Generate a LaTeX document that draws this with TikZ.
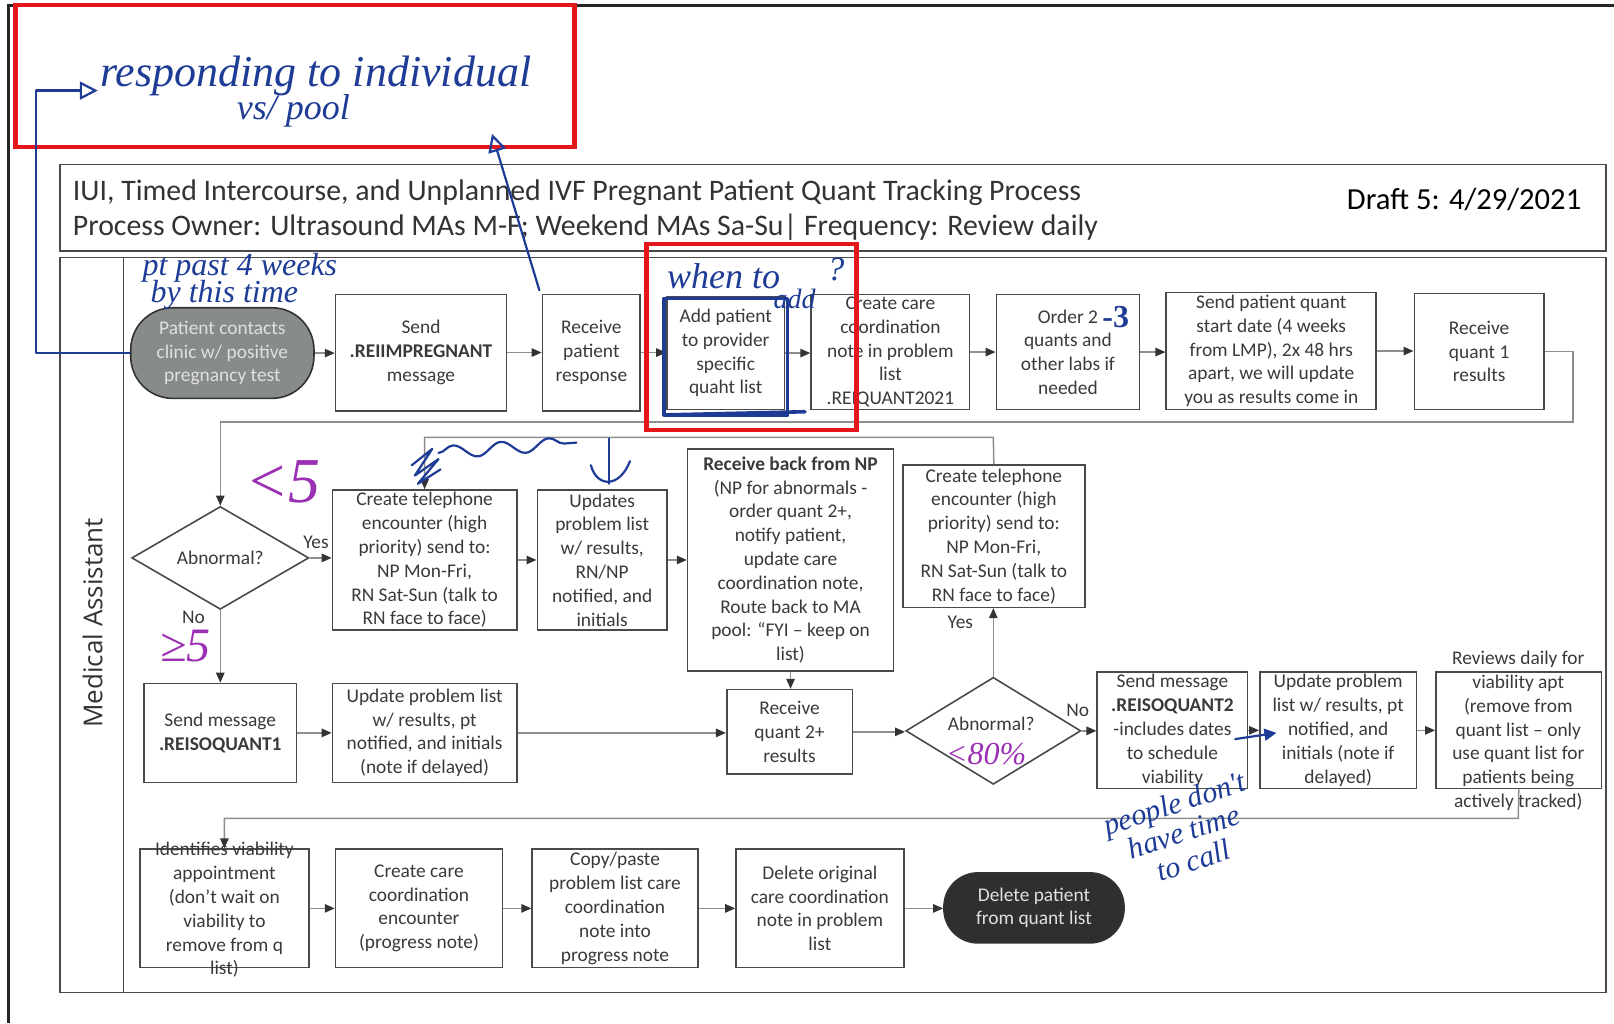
\documentclass[tikz,border=0pt]{standalone}
\usepackage{fontspec}
\setmainfont{Carlito}
\newfontfamily\lanefont{Open Sans}
\newfontfamily\handfont{Liberation Serif}
\usetikzlibrary{shapes.geometric,arrows.meta,calc,decorations.pathmorphing}

\definecolor{ink}{HTML}{3A3A3A}
\definecolor{edge}{HTML}{4A4A4A}
\definecolor{wire}{HTML}{8E8E8E}
\definecolor{pen}{HTML}{1E3C96}
\definecolor{penpurple}{HTML}{9B30B4}
\definecolor{redmark}{HTML}{E3161C}
\definecolor{startgray}{HTML}{878C89}
\definecolor{endgray}{HTML}{2F2F2F}

% box given by its corners: [options]{name}{x1}{y1}{x2}{y2}{text}
\newcommand{\flowbox}[7][]{%
  \node[stepbox, minimum width={(#5-#3)*0.51465pt}, minimum height={(#6-#4)*0.51465pt}, #1]
    (#2) at ({(#3+#5)/2},{(#4+#6)/2}) {#7};}

\tikzset{
  every node/.style={font=\fontsize{9.7}{11.9}\selectfont, text=ink},
  stepbox/.style={draw=edge, line width=0.8pt, fill=white, align=center, inner sep=1pt},
  startbox/.style={stepbox, fill=startgray, draw=black!80, rounded corners=21pt, text=black!12},
  endbox/.style={stepbox, fill=endgray, draw=black!80, rounded corners=17pt, text=white!88!black},
  decision/.style={diamond, draw=edge, line width=0.8pt, fill=white, inner sep=0pt, align=center},
  flow/.style={draw=wire, line width=0.75pt, -{Triangle[length=5pt,width=4.2pt,color=black!80]}},
  lbl/.style={inner sep=1pt},
  penline/.style={draw=pen, line width=1.1pt, line cap=round, line join=round},
  hand/.style={text=pen, inner sep=0pt, font=\handfont\itshape\fontsize{16}{16}\selectfont},
  handp/.style={text=penpurple, inner sep=0pt, font=\handfont\itshape\fontsize{16}{16}\selectfont},
  redbox/.style={draw=redmark, line width=2.2pt},
}

\begin{document}
\begin{tikzpicture}[x=0.51465pt,y=-0.51465pt]
\useasboundingbox[fill=white] (0,0) rectangle (1568,994);

% page frame
\draw[line width=1.6pt, black!85] (8,994) -- (8,5) -- (1568,5);

% title block
\draw[draw=edge, line width=0.8pt] (58,160) rectangle (1560,244);
\node[anchor=west, align=left, text=black!80, font=\fontsize{14.9}{17.6}\selectfont] (title) at (64,204)
  {IUI, Timed Intercourse, and Unplanned IVF Pregnant Patient Quant Tracking Process\\
   Process Owner: Ultrasound MAs M-F; Weekend MAs Sa-Su| Frequency: Review daily};
\node[anchor=east, text=black, font=\fontsize{15.3}{18}\selectfont] (draft) at (1543,194) {Draft 5: 4/29/2021};

% swimlane
\draw[draw=edge, line width=0.8pt] (58,250) rectangle (1560,964);
\draw[draw=edge, line width=0.8pt] (120,250) -- (120,964);
\node[rotate=90, text=black!80, font=\lanefont\fontsize{13}{15}\selectfont] (lane) at (90,605) {Medical Assistant};

% ---- row 1
\flowbox[startbox]{start}{127}{299}{305}{387}{Patient contacts\\clinic w/ positive\\pregnancy test}
\flowbox{send1}{326}{286}{492}{399}{Send\\\textbf{.REIIMPREGNANT}\\message}
\flowbox{recv}{527}{286}{622}{399}{Receive\\patient\\response}
\flowbox{addpt}{648}{288}{762}{398}{Add patient\\to provider\\specific\\quaht list}
\flowbox{ccnote}{788}{286}{942}{398}{Create care\\coordination\\note in problem\\list\\.REIQUANT2021}
\flowbox{order}{968}{286}{1107}{398}{Order 2\\quants and\\other labs if\\needed}
\flowbox{sendq}{1133}{284}{1337}{398}{Send patient quant\\start date (4 weeks\\from LMP), 2x 48 hrs\\apart, we will update\\you as results come in}
\flowbox{rq1}{1374}{285}{1500}{398}{Receive\\quant 1\\results}

% ---- row 2
\node[decision, minimum width={172*0.51465pt}, minimum height={100*0.51465pt}] (ab1) at (214,542) {Abnormal?};
\flowbox{tel1}{323}{476}{502}{612}{Create telephone\\encounter (high\\priority) send to:\\NP Mon-Fri,\\RN Sat-Sun (talk to\\RN face to face)}
\flowbox{upd1}{522}{476}{648}{612}{Updates\\problem list\\w/ results,\\RN/NP\\notified, and\\initials}
\flowbox{np}{668}{436}{868}{652}{\textbf{Receive back from NP}\\(NP for abnormals -\\order quant 2+,\\notify patient,\\update care\\coordination note,\\Route back to MA\\pool: “FYI – keep on\\list)}
\flowbox{tel2}{877}{452}{1054}{590}{Create telephone\\encounter (high\\priority) send to:\\NP Mon-Fri,\\RN Sat-Sun (talk to\\RN face to face)}

% ---- row 3
\flowbox{sm1}{140}{664}{288}{760}{Send message\\\textbf{.REISOQUANT1}}
\flowbox{upl1}{323}{664}{502}{760}{Update problem list\\w/ results, pt\\notified, and initials\\(note if delayed)}
\flowbox{rq2}{706}{670}{828}{752}{Receive\\quant 2+\\results}
\node[decision, minimum width={170*0.51465pt}, minimum height={104*0.51465pt}] (ab2) at (965,710) {};
\node[lbl] (ab2txt) at (963,703) {Abnormal?};
\flowbox{sm2}{1066}{653}{1212}{766}{Send message\\\textbf{.REISOQUANT2}\\-includes dates\\to schedule\\viability}
\flowbox{upl2}{1224}{653}{1376}{766}{Update problem\\list w/ results, pt\\notified, and\\initials (note if\\delayed)}
\flowbox{rev}{1395}{653}{1556}{766}{}
\node[lbl, align=center] (revtxt) at (1475,710) {Reviews daily for\\viability apt\\(remove from\\quant list – only\\use quant list for\\patients being\\actively tracked)};

% ---- row 4
\flowbox{ident}{136}{825}{300}{940}{}
\node[lbl, align=center] (identtxt) at (218,884) {Identifies viability\\appointment\\(don’t wait on\\viability to\\remove from q\\list)};
\flowbox{ccenc}{326}{825}{488}{940}{Create care\\coordination\\encounter\\(progress note)}
\flowbox{copy}{517}{825}{678}{940}{Copy/paste\\problem list care\\coordination\\note into\\progress note}
\flowbox{delorig}{715}{825}{878}{940}{Delete original\\care coordination\\note in problem\\list}
\flowbox[endbox]{delpt}{917}{848}{1092}{916}{Delete patient\\from quant list}

% ---- connectors
\foreach \a/\b in {start/send1, send1/recv, recv/addpt, addpt/ccnote, ccnote/order, order/sendq, sendq/rq1,
                   ab1/tel1, tel1/upd1, upd1/np, sm1/upl1, upl1/rq2, rq2/ab2, ab2/sm2, sm2/upl2, upl2/rev,
                   ident/ccenc, ccenc/copy, copy/delorig, delorig/delpt}
  \draw[flow] (\a.east) -- (\a.east -| \b.west);

\coordinate (loopA) at (1528,410);
\draw[flow] (rq1.east) -| (loopA) -| (ab1.north);
\draw[flow] (ab1.south) -- (ab1.south |- sm1.north);
\draw[flow] (np.south) -- (np.south |- rq2.north);
\draw[flow] (ab2.north) -- (ab2.north |- tel2.south);
\coordinate (loopB) at (965,425);
\draw[flow] (tel2.north) -- (loopB) -| (tel1.north);
\coordinate (loopC) at (1475,795);
\draw[flow] (rev.south) -- (loopC) -| (ident.north);

\node[lbl] (yes1) at (307,527) {Yes};
\node[lbl] (no1) at (188,600) {No};
\node[lbl] (yes2) at (933,605) {Yes};
\node[lbl] (no2) at (1047,690) {No};

% ---- pen notes
\draw[redbox] (15,5) rectangle (558,143);
\draw[redbox] (628,237) rectangle (832,418);

\node[hand, anchor=west, font=\handfont\itshape\fontsize{22}{22}\selectfont] (respond) at (97,74) {responding to individual};
\node[hand, font=\handfont\itshape\fontsize{18}{18}\selectfont] (pool) at (285,108) {vs/ pool};
\coordinate (respin) at (95,88);
\draw[penline, -{Triangle[length=9pt,width=9pt,open]}] (start.west) -- (35,343) -- (35,88) -- (respin);
\coordinate (recvtop) at (524,282);
\coordinate (respup) at (478,130);
\draw[penline, -{Triangle[length=9pt,width=9pt,open]}] (recvtop) -- (respup);

\node[hand] (pastwk) at (233,260) {pt past 4 weeks};
\node[hand] (bytime) at (218,286) {by this time};
\draw[penline, line width=1.8pt] (645,290) rectangle (765,403);
\draw[penline, line width=1.8pt] (650,403) -- (782,400);
\node[hand, font=\handfont\itshape\fontsize{18}{18}\selectfont] (whento) at (703,268) {when to};
\node[hand, font=\handfont\itshape\fontsize{14}{14}\selectfont] (whenadd) at (772,290) {add};
\node[hand, font=\handfont\itshape\fontsize{17}{17}\selectfont] (whenq) at (812,262) {?};
\node[hand, font=\handfont\bfseries\fontsize{16}{16}\selectfont] (minus3) at (1084,308) {-3};

\draw[penline] (400,452) -- (420,436) -- (403,462) -- (426,446) -- (406,470) -- (428,456);
\draw[penline, decorate, decoration={snake, amplitude=3.2pt, segment length=24pt}] (426,440) -- (560,430);
\draw[penline] (592,426) -- (592,470);
\draw[penline] (574,452) .. controls (580,474) and (602,474) .. (612,448);

\node[handp, font=\handfont\itshape\fontsize{32}{32}\selectfont] (lt5) at (275,468) {<5};
\node[handp, font=\handfont\itshape\fontsize{24}{24}\selectfont] (ge5) at (180,628) {≥5};
\node[handp, font=\handfont\itshape\fontsize{16}{16}\selectfont] (lt80) at (958,733) {<80\%};

\node[hand, align=center, rotate=18, font=\handfont\itshape\fontsize{15}{15}\selectfont] (notime) at (1150,808) {people don't\\have time\\to call};
\coordinate (smallA) at (1200,718);
\coordinate (smallB) at (1240,712);
\draw[penline, -{Triangle[length=6pt,width=6pt]}] (smallA) -- (smallB);

\end{tikzpicture}
\end{document}
